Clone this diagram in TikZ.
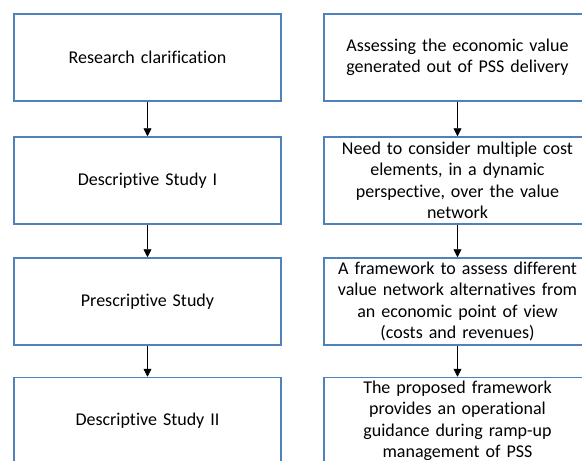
\documentclass[tikz,border=0pt]{standalone}
\usepackage{fontspec}
\setmainfont[Ligatures=NoCommon]{Carlito}
\usetikzlibrary{arrows.meta}
\definecolor{boxblue}{HTML}{4F81BD}
\begin{document}
\begin{tikzpicture}[x=1pt,y=-1pt,
  stagebox/.style={draw=boxblue,line width=1.5pt,fill=white,minimum width=267pt,minimum height=87pt,inner sep=2pt,
    font=\fontsize{18}{21.5}\selectfont,align=center,text width=262pt},
  flowarrow/.style={draw=black,line width=0.8pt,-{Triangle[length=8pt,width=8pt]}}]
\useasboundingbox (0,0) rectangle (582,461);
\begin{scope}
\clip (0,0) rectangle (582,461);
\node[stagebox] (l1) at (147.5,57.5) {Research clarification};
\node[stagebox] (l2) at (147.5,180.5) {Descriptive Study I};
\node[stagebox] (l3) at (147.5,301.5) {Prescriptive Study};
\node[stagebox] (l4) at (147.5,421) {Descriptive Study II};
\node[stagebox] (r1) at (457.5,57.5) {Assessing the economic value\\generated out of PSS delivery};
\node[stagebox] (r2) at (457.5,180.5) {Need to consider multiple cost\\elements, in a dynamic\\perspective, over the value\\network};
\node[stagebox] (r3) at (457.5,301.5) {A framework to assess different\\value network alternatives from\\an economic point of view\\(costs and revenues)};
\node[stagebox] (r4) at (457.5,421) {The proposed framework\\provides an operational\\guidance during ramp-up\\management of PSS};
\draw[flowarrow] (l1) -- (l2);
\draw[flowarrow] (l2) -- (l3);
\draw[flowarrow] (l3) -- (l4);
\draw[flowarrow] (r1) -- (r2);
\draw[flowarrow] (r2) -- (r3);
\draw[flowarrow] (r3) -- (r4);
\end{scope}
\end{tikzpicture}
\end{document}
